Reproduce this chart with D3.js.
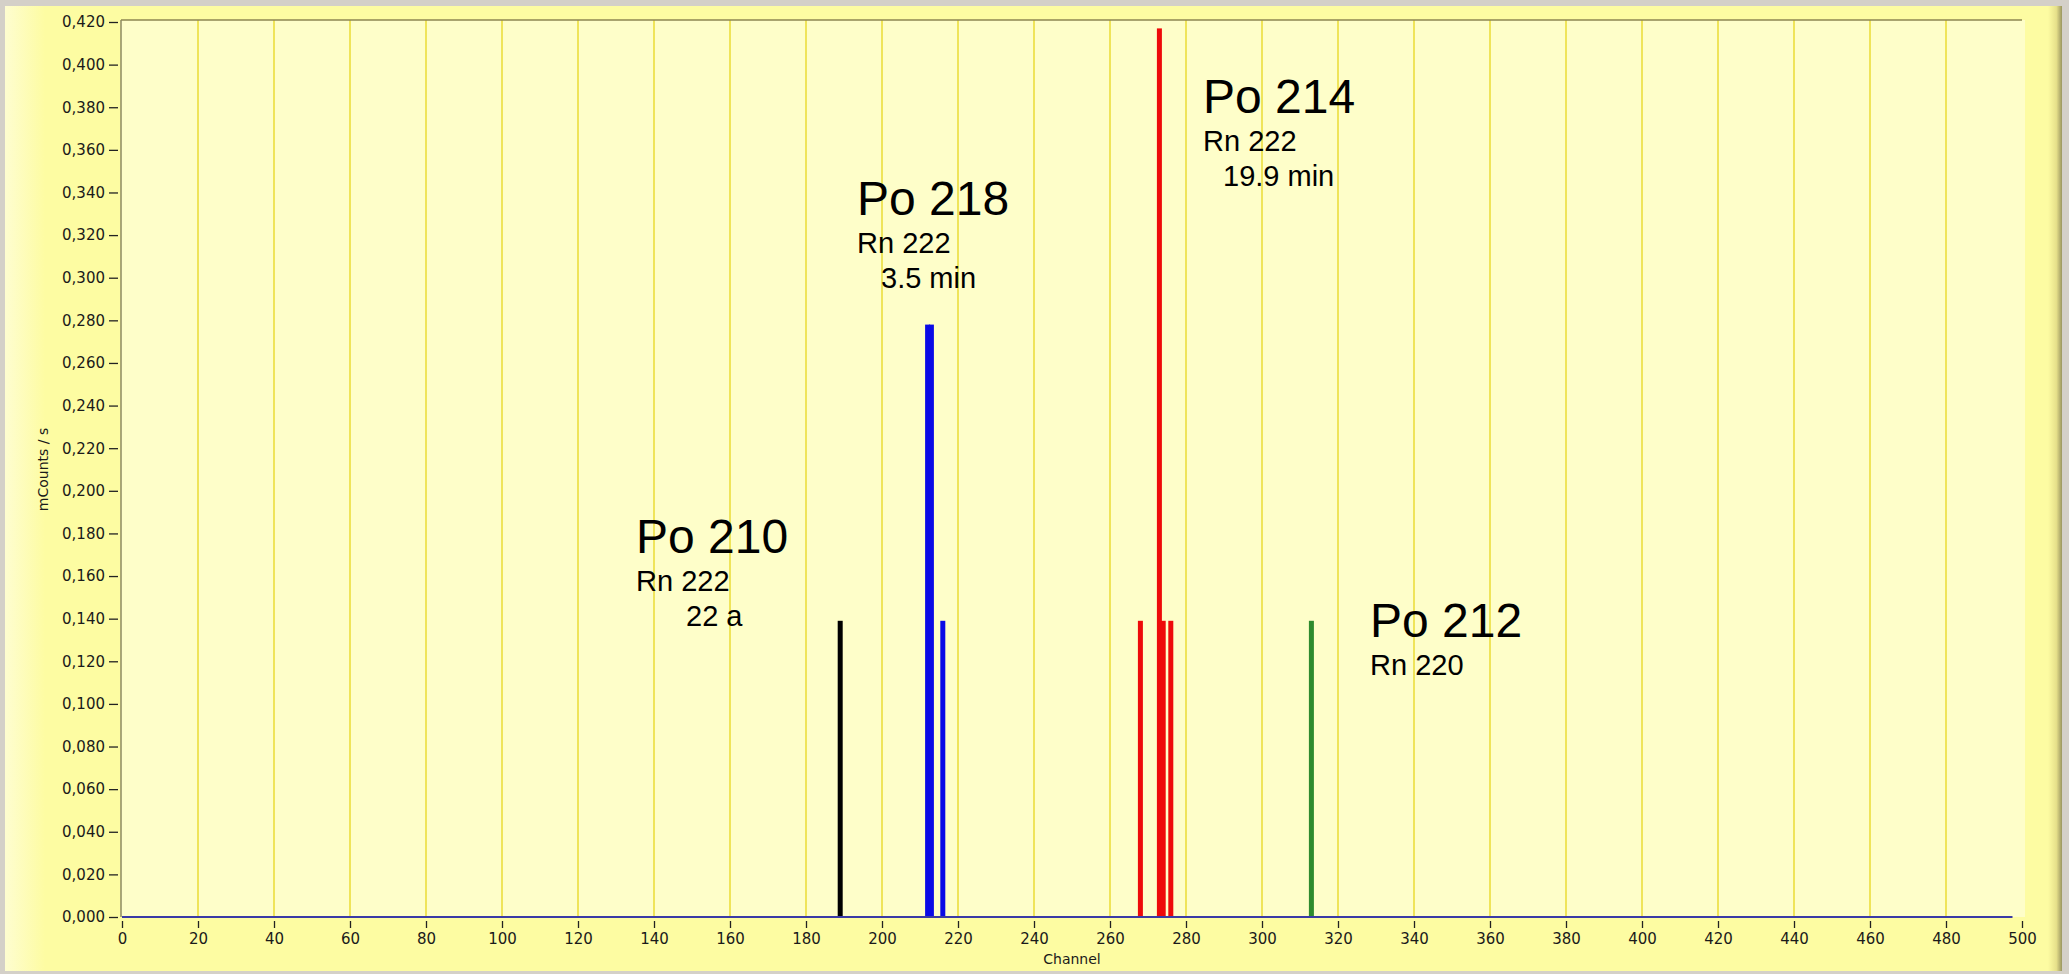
<!DOCTYPE html>
<html>
<head>
<meta charset="utf-8">
<script src="https://cdn.jsdelivr.net/npm/d3@7"></script>
<style>
  body { margin: 0; background: #d4d0c8; overflow: hidden; }
  svg { display: block; }
</style>
</head>
<body>
<div id="chart"></div>
<script>
// peak channels and rates (mCounts / s), one array per nuclide
const po210 = [[189, 0.139]];
const po218 = [[212, 0.278], [213, 0.278], [216, 0.139]];
const po214 = [[268, 0.139], [273, 0.417], [274, 0.139], [276, 0.139]];
const po212 = [[313, 0.139]];

const xTicks = d3.range(0, 501, 20);
const yTicks = d3.range(0, 0.4201, 0.02);

const labelTitles = ["Po 210", "Po 218", "Po 214", "Po 212"];
const labelParents = ["Rn 222", "Rn 222", "Rn 222", "Rn 220"];
const labelHalfLives = ["22 a", "3.5 min", "19.9 min", ""];

const W = 2069, H = 974;
const margin = { top: 22, right: 47, bottom: 57, left: 122 };

const svg = d3.select("#chart").append("svg")
  .attr("width", W)
  .attr("height", H);

const defs = svg.append("defs");
const leftGrad = defs.append("linearGradient").attr("id", "leftGrad");
leftGrad.append("stop").attr("offset", "0%").attr("stop-color", "#fefdd0");
leftGrad.append("stop").attr("offset", "100%").attr("stop-color", "#fdfca2");
const rightGrad = defs.append("linearGradient").attr("id", "rightGrad");
rightGrad.append("stop").attr("offset", "0%").attr("stop-color", "#fdfca2");
rightGrad.append("stop").attr("offset", "60%").attr("stop-color", "#e6e08a");
rightGrad.append("stop").attr("offset", "100%").attr("stop-color", "#9a9660");

// panel
svg.append("rect").attr("x", 5).attr("y", 6).attr("width", 2057).attr("height", 965)
  .attr("fill", "#fdfca2");
svg.append("rect").attr("x", 5).attr("y", 6).attr("width", 40).attr("height", 965)
  .attr("fill", "url(#leftGrad)");
svg.append("rect").attr("x", 2048).attr("y", 6).attr("width", 14).attr("height", 965)
  .attr("fill", "url(#rightGrad)");

const x = d3.scaleLinear().domain([0, 500]).range([margin.left, W - margin.right]);
const y = d3.scaleLinear().domain([0, 0.42]).range([H - margin.bottom, margin.top]);

// plot area
svg.append("rect")
  .attr("x", x(0) - 1).attr("y", y(0.42) - 2)
  .attr("width", x(500) - x(0) + 4).attr("height", y(0) - y(0.42) + 2)
  .attr("fill", "#fefec9");

// vertical grid
svg.append("g").selectAll("line")
  .data(xTicks.filter(d => d > 0 && d < 500))
  .join("line")
  .attr("x1", d => x(d)).attr("x2", d => x(d))
  .attr("y1", y(0.42) - 2).attr("y2", y(0))
  .attr("stroke", "#efe45a")
  .attr("stroke-width", 2);

// frame: top and left
svg.append("line")
  .attr("x1", x(0) - 1).attr("x2", x(500))
  .attr("y1", y(0.42) - 2).attr("y2", y(0.42) - 2)
  .attr("stroke", "#8c8650").attr("stroke-width", 1.5);
svg.append("line")
  .attr("x1", x(0) - 1).attr("x2", x(0) - 1)
  .attr("y1", y(0.42) - 2).attr("y2", y(0))
  .attr("stroke", "#8c8a62").attr("stroke-width", 1.5);

const decFmt = d3.formatLocale({ decimal: ",", thousands: ".", grouping: [3], currency: ["", ""] }).format(".3f");

// y axis
const yAxis = svg.append("g")
  .attr("transform", `translate(${x(0) - 4},0)`)
  .call(d3.axisLeft(y).tickValues(yTicks).tickFormat(decFmt).tickSize(9).tickPadding(4));
yAxis.select(".domain").remove();
yAxis.selectAll(".tick line").attr("stroke", "#222").attr("stroke-width", 1.3);
yAxis.selectAll("text")
  .attr("font-family", "DejaVu Sans, sans-serif")
  .attr("font-size", 15)
  .attr("fill", "#1a1a1a");

// x axis
const xAxis = svg.append("g")
  .attr("transform", `translate(0,${y(0) + 4})`)
  .call(d3.axisBottom(x).tickValues(xTicks).tickSize(7).tickPadding(5));
xAxis.select(".domain").remove();
xAxis.selectAll(".tick line").attr("stroke", "#222").attr("stroke-width", 1.3);
xAxis.selectAll("text")
  .attr("font-family", "DejaVu Sans, sans-serif")
  .attr("font-size", 15)
  .attr("fill", "#1a1a1a");

svg.append("text")
  .attr("x", (x(0) + x(500)) / 2)
  .attr("y", 964)
  .attr("text-anchor", "middle")
  .attr("font-family", "DejaVu Sans, sans-serif")
  .attr("font-size", 14)
  .attr("fill", "#1a1a1a")
  .text("Channel");

svg.append("text")
  .attr("transform", `translate(48,${(y(0) + y(0.42)) / 2}) rotate(-90)`)
  .attr("text-anchor", "middle")
  .attr("font-family", "DejaVu Sans, sans-serif")
  .attr("font-size", 14)
  .attr("fill", "#1a1a1a")
  .text("mCounts / s");

// bars
const series = [
  { data: po210, color: "#000000" },
  { data: po218, color: "#0a0ae6" },
  { data: po214, color: "#ee0a0a" },
  { data: po212, color: "#2e8b2e" }
];
const barW = 5;
series.forEach(s => {
  svg.append("g").selectAll("rect")
    .data(s.data)
    .join("rect")
    .attr("x", d => x(d[0]) - barW / 2)
    .attr("y", d => y(d[1]))
    .attr("width", barW)
    .attr("height", d => y(0) - y(d[1]))
    .attr("fill", s.color);
});

// zero line
svg.append("line")
  .attr("x1", x(0)).attr("x2", x(497.5))
  .attr("y1", y(0)).attr("y2", y(0))
  .attr("stroke", "#3a3aa6").attr("stroke-width", 2);

// annotations
const labelPos = [
  { x: 636, y: 553, dx: 50 },
  { x: 857, y: 215, dx: 24 },
  { x: 1203, y: 113, dx: 20 },
  { x: 1370, y: 637, dx: 0 }
];
labelTitles.forEach((t, i) => {
  const p = labelPos[i];
  const g = svg.append("g")
    .attr("font-family", "Liberation Sans, Arial, sans-serif")
    .attr("fill", "#000");
  g.append("text").attr("x", p.x).attr("y", p.y).attr("font-size", 48).text(t);
  g.append("text").attr("x", p.x).attr("y", p.y + 38).attr("font-size", 29).text(labelParents[i]);
  if (labelHalfLives[i]) {
    g.append("text").attr("x", p.x + p.dx).attr("y", p.y + 73).attr("font-size", 29).text(labelHalfLives[i]);
  }
});
</script>
</body>
</html>
